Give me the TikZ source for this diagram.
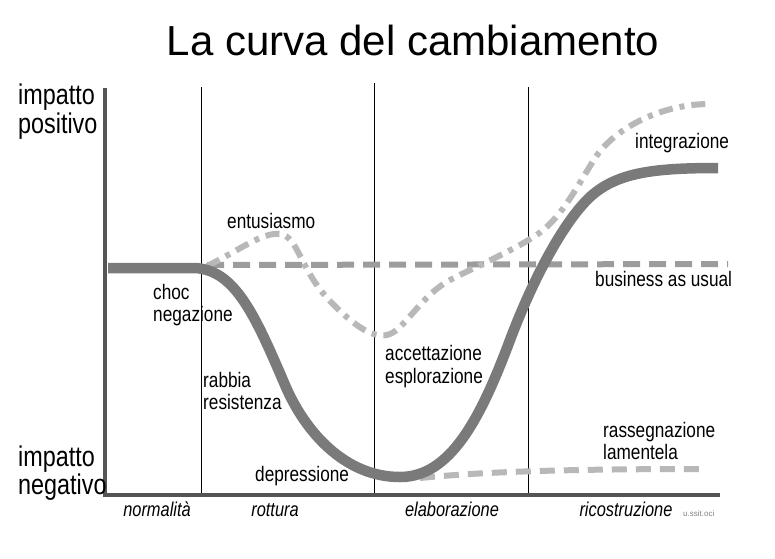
\documentclass[tikz,border=0pt]{standalone}
\usepackage{fontspec}
\setmainfont{Liberation Sans}
\newfontfamily\cond[FakeStretch=0.82]{Liberation Sans}
\definecolor{maincurve}{HTML}{7A7A7A}
\definecolor{axisgray}{HTML}{555555}
\definecolor{bizgray}{HTML}{9C9C9C}
\definecolor{lightgray2}{HTML}{B8B8B8}
\tikzset{
  lab/.style={anchor=base west, inner sep=0pt, font=\cond\fontsize{21}{24}\selectfont},
  axlab/.style={anchor=base west, inner sep=0pt, font=\cond\fontsize{28.5}{31}\selectfont},
  phase/.style={anchor=base, inner sep=0pt, font=\cond\itshape\fontsize{20}{22}\selectfont},
  divider/.style={black, line width=0.8pt},
  axisline/.style={axisgray, line width=4.5pt},
  mainline/.style={maincurve, line width=10.5pt, line join=round},
  bizline/.style={bizgray, line width=6pt, dash pattern=on 17pt off 9pt},
  dashdot/.style={lightgray2, line width=6pt, dash pattern=on 14pt off 7pt on 5pt off 7pt},
  lowline/.style={lightgray2, line width=6pt, dash pattern=on 15pt off 9pt},
}
\begin{document}
\begin{tikzpicture}[x=1pt, y=-1pt]
\useasboundingbox (0,0) rectangle (775,558);
% title
\node[inner sep=0pt, anchor=base, font=\fontsize{42}{46}\selectfont] (title) at (413,55) {La curva del cambiamento};
% phase dividers
\coordinate (d1t) at (201,87); \coordinate (d1b) at (201,495);
\coordinate (d2t) at (374,83); \coordinate (d2b) at (374,495);
\coordinate (d3t) at (528,87); \coordinate (d3b) at (528,495);
\draw[divider] (d1t) -- (d1b);
\draw[divider] (d2t) -- (d2b);
\draw[divider] (d3t) -- (d3b);
% business as usual
\coordinate (b0) at (207,265); \coordinate (b1) at (728,264);
\draw[bizline] (b0) -- (b1);
% rassegnazione
\coordinate (r0) at (420,478); \coordinate (r1) at (704,469);
\draw[lowline] (r0) .. controls (480,472) and (560,469) .. (r1);
% dash-dot curve
\draw[dashdot] (207,266) .. controls (240,250) and (262,232) .. (280,234)
  .. controls (298,236) and (300,270) .. (330,301)
  .. controls (355,327) and (375,340) .. (390,334)
  .. controls (405,328) and (422,295) .. (450,280)
  .. controls (475,267) and (510,252) .. (535,236)
  .. controls (560,220) and (575,190) .. (595,158)
  .. controls (615,128) and (660,105) .. (707,104);
% main curve
\draw[mainline] (108,268) -- (195,268)
  .. controls (235,270) and (255,315) .. (285,385)
  .. controls (305,432) and (345,477) .. (400,477)
  .. controls (450,477) and (480,420) .. (510,340)
  .. controls (530,287) and (558,231) .. (585,202)
  .. controls (612,173) and (650,168) .. (718,168);
% axes
\coordinate (origin) at (105,495); \coordinate (ytop) at (105,88); \coordinate (xend) at (720,495);
\draw[axisline] (ytop) -- (origin) -- (xend);
% axis labels
\node[axlab] (ip1) at (18,104) {impatto};
\node[axlab] (ip2) at (18,133) {positivo};
\node[axlab] (in1) at (18,466) {impatto};
\node[axlab] (in2) at (18,494) {negativo};
% curve labels
\node[lab] (ent) at (227,228) {entusiasmo};
\node[lab] (choc) at (153,299) {choc};
\node[lab] (neg) at (153,321) {negazione};
\node[lab] (rab) at (203,387) {rabbia};
\node[lab] (res) at (203,409) {resistenza};
\node[lab] (dep) at (255,481) {depressione};
\node[lab] (acc) at (385,360) {accettazione};
\node[lab] (esp) at (385,383) {esplorazione};
\node[lab] (int) at (635,148) {integrazione};
\node[lab] (bau) at (595,286) {business as usual};
\node[lab] (ras) at (603,437) {rassegnazione};
\node[lab] (lam) at (603,459) {lamentela};
% phases
\node[phase] (p1) at (157,516) {normalità};
\node[phase] (p2) at (275,516) {rottura};
\node[phase] (p3) at (452,516) {elaborazione};
\node[phase] (p4) at (626,516) {ricostruzione};
\node[anchor=base west, inner sep=0pt, font=\fontsize{8}{9}\selectfont, text=gray] (src) at (683,516) {u.ssit.oci};
\end{tikzpicture}
\end{document}
